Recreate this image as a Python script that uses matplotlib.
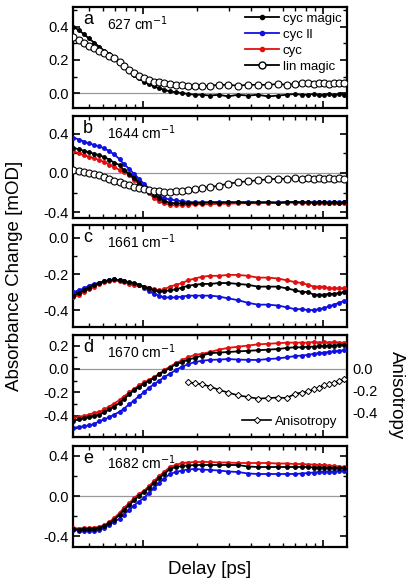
import numpy as np
import matplotlib
matplotlib.use("Agg")
import matplotlib.pyplot as plt
from matplotlib.ticker import MultipleLocator, LogLocator, NullFormatter

plt.rcParams['font.family'] = ['Liberation Sans', 'DejaVu Sans']

# Delay grid (ps)
delay = [0.41, 0.44, 0.47, 0.50, 0.535, 0.57, 0.61, 0.65, 0.69, 0.74, 0.78, 0.84,
         0.89, 0.95, 1.01, 1.08, 1.15, 1.23, 1.31, 1.41, 1.52, 1.65, 1.78, 1.94,
         2.13, 2.36, 2.64, 2.97, 3.37, 3.83, 4.35, 4.95, 5.62, 6.31, 6.99, 7.64,
         8.25, 8.91, 9.50, 10.1, 10.8, 11.5, 12.3, 13.1]

# panel a, 627 cm-1
a_cyc_magic = [0.40, 0.38, 0.355, 0.33, 0.305, 0.28, 0.255, 0.235, 0.21, 0.185, 0.16, 0.135,
               0.11, 0.09, 0.07, 0.055, 0.04, 0.03, 0.02, 0.01, 0.005, 0.0, -0.005, -0.01,
               -0.01, -0.015, -0.01, -0.02, -0.01, -0.015, -0.01, -0.02, -0.015, -0.01, -0.005, -0.01,
               -0.01, -0.005, -0.01, -0.01, -0.005, -0.01, -0.005, -0.01]
a_lin_magic = [0.34, 0.32, 0.30, 0.285, 0.27, 0.255, 0.24, 0.225, 0.21, 0.19, 0.165, 0.14,
               0.12, 0.105, 0.09, 0.08, 0.07, 0.065, 0.06, 0.055, 0.05, 0.05, 0.045, 0.04,
               0.04, 0.045, 0.05, 0.05, 0.045, 0.05, 0.05, 0.05, 0.055, 0.05, 0.055, 0.06,
               0.06, 0.055, 0.06, 0.06, 0.055, 0.06, 0.06, 0.06]

# panel b, 1644 cm-1
b_cyc_par = [0.36, 0.34, 0.32, 0.30, 0.285, 0.27, 0.25, 0.22, 0.19, 0.14, 0.09, 0.04,
             -0.01, -0.06, -0.11, -0.16, -0.20, -0.235, -0.26, -0.27, -0.28, -0.29, -0.295, -0.30,
             -0.30, -0.30, -0.295, -0.30, -0.30, -0.295, -0.30, -0.30, -0.30, -0.295, -0.30, -0.30,
             -0.30, -0.295, -0.30, -0.30, -0.30, -0.295, -0.30, -0.30]
b_cyc = [0.22, 0.20, 0.18, 0.165, 0.15, 0.13, 0.11, 0.085, 0.06, 0.03, 0.01, -0.02,
         -0.07, -0.115, -0.16, -0.21, -0.255, -0.29, -0.31, -0.325, -0.33, -0.33, -0.325, -0.32,
         -0.32, -0.32, -0.315, -0.315, -0.31, -0.31, -0.31, -0.305, -0.31, -0.305, -0.305, -0.31,
         -0.305, -0.305, -0.31, -0.305, -0.305, -0.31, -0.305, -0.305]
b_cyc_magic = [0.255, 0.24, 0.225, 0.21, 0.195, 0.18, 0.16, 0.135, 0.105, 0.08, 0.03, -0.01,
               -0.05, -0.10, -0.15, -0.19, -0.225, -0.26, -0.285, -0.305, -0.31, -0.31, -0.31, -0.305,
               -0.305, -0.30, -0.305, -0.30, -0.30, -0.305, -0.30, -0.30, -0.305, -0.30, -0.295, -0.30,
               -0.30, -0.305, -0.30, -0.30, -0.305, -0.30, -0.305, -0.30]
b_lin_magic = [0.03, 0.02, 0.01, 0.0, -0.01, -0.02, -0.04, -0.06, -0.08, -0.09, -0.11, -0.125,
               -0.14, -0.15, -0.16, -0.17, -0.18, -0.185, -0.19, -0.19, -0.185, -0.18, -0.17, -0.16,
               -0.15, -0.145, -0.13, -0.11, -0.095, -0.085, -0.075, -0.065, -0.06, -0.06, -0.055, -0.06,
               -0.055, -0.06, -0.055, -0.06, -0.055, -0.06, -0.055, -0.06]

# panel c, 1661 cm-1
c_cyc_par = [-0.30, -0.29, -0.28, -0.265, -0.255, -0.25, -0.24, -0.235, -0.23, -0.235, -0.24, -0.25,
             -0.255, -0.26, -0.275, -0.295, -0.31, -0.32, -0.33, -0.33, -0.33, -0.325, -0.32, -0.32,
             -0.32, -0.32, -0.325, -0.335, -0.345, -0.36, -0.37, -0.37, -0.375, -0.385, -0.395, -0.395,
             -0.40, -0.40, -0.395, -0.39, -0.38, -0.37, -0.36, -0.35]
c_cyc = [-0.33, -0.315, -0.30, -0.285, -0.27, -0.255, -0.245, -0.24, -0.235, -0.24, -0.245, -0.255,
         -0.26, -0.26, -0.27, -0.275, -0.285, -0.29, -0.285, -0.27, -0.26, -0.25, -0.235, -0.225,
         -0.215, -0.21, -0.21, -0.205, -0.205, -0.21, -0.22, -0.22, -0.225, -0.235, -0.245, -0.25,
         -0.26, -0.27, -0.27, -0.27, -0.28, -0.28, -0.28, -0.28]
c_cyc_magic = [-0.32, -0.305, -0.29, -0.275, -0.26, -0.25, -0.24, -0.235, -0.23, -0.235, -0.24, -0.245,
               -0.25, -0.26, -0.27, -0.28, -0.29, -0.295, -0.295, -0.29, -0.285, -0.275, -0.265, -0.26,
               -0.255, -0.255, -0.25, -0.25, -0.255, -0.26, -0.27, -0.27, -0.27, -0.28, -0.29, -0.30,
               -0.30, -0.315, -0.315, -0.315, -0.31, -0.31, -0.305, -0.30]

# panel d, 1670 cm-1
d_cyc_par = [-0.50, -0.495, -0.49, -0.48, -0.47, -0.445, -0.43, -0.41, -0.39, -0.365, -0.34, -0.30,
             -0.27, -0.23, -0.20, -0.16, -0.13, -0.10, -0.07, -0.04, -0.01, 0.02, 0.04, 0.06,
             0.07, 0.078, 0.08, 0.085, 0.08, 0.078, 0.077, 0.085, 0.09, 0.10, 0.11, 0.115,
             0.12, 0.13, 0.135, 0.14, 0.145, 0.15, 0.155, 0.16]
d_cyc = [-0.42, -0.41, -0.40, -0.39, -0.375, -0.365, -0.345, -0.32, -0.295, -0.265, -0.235, -0.20,
         -0.17, -0.14, -0.115, -0.095, -0.07, -0.04, -0.01, 0.02, 0.05, 0.075, 0.10, 0.12,
         0.13, 0.145, 0.165, 0.18, 0.19, 0.20, 0.21, 0.215, 0.22, 0.225, 0.225, 0.225,
         0.225, 0.23, 0.225, 0.23, 0.225, 0.23, 0.225, 0.225]
d_cyc_magic = [-0.44, -0.43, -0.42, -0.41, -0.40, -0.39, -0.37, -0.345, -0.32, -0.29, -0.255, -0.215,
               -0.18, -0.155, -0.125, -0.10, -0.075, -0.045, -0.02, 0.01, 0.04, 0.06, 0.08, 0.095,
               0.115, 0.135, 0.14, 0.145, 0.15, 0.155, 0.16, 0.165, 0.17, 0.18, 0.185, 0.185,
               0.19, 0.19, 0.195, 0.195, 0.20, 0.20, 0.205, 0.205]
aniso_delay = delay[22:]
d_anisotropy = [-0.12, -0.13, -0.14, -0.16, -0.19, -0.215, -0.24, -0.255, -0.27, -0.265, -0.26,
                -0.265, -0.225, -0.215, -0.205, -0.185, -0.17, -0.15, -0.14, -0.125, -0.11, -0.09]

# panel e, 1682 cm-1
e_cyc_par = [-0.34, -0.345, -0.35, -0.35, -0.345, -0.34, -0.32, -0.29, -0.26, -0.225, -0.185, -0.14,
             -0.095, -0.055, -0.02, 0.03, 0.08, 0.13, 0.175, 0.22, 0.24, 0.255, 0.265, 0.27,
             0.265, 0.26, 0.255, 0.245, 0.24, 0.225, 0.22, 0.22, 0.22, 0.22, 0.22, 0.225,
             0.23, 0.235, 0.24, 0.245, 0.245, 0.245, 0.25, 0.25]
e_cyc = [-0.32, -0.325, -0.32, -0.32, -0.315, -0.31, -0.29, -0.26, -0.22, -0.17, -0.12, -0.07,
         -0.02, 0.02, 0.05, 0.10, 0.15, 0.20, 0.24, 0.29, 0.31, 0.33, 0.335, 0.34,
         0.34, 0.34, 0.335, 0.335, 0.33, 0.33, 0.33, 0.33, 0.325, 0.325, 0.32, 0.32,
         0.315, 0.315, 0.31, 0.31, 0.305, 0.30, 0.295, 0.29]
e_cyc_magic = [-0.33, -0.335, -0.33, -0.33, -0.325, -0.32, -0.30, -0.27, -0.235, -0.19, -0.14, -0.09,
               -0.04, 0.0, 0.04, 0.08, 0.13, 0.18, 0.22, 0.27, 0.29, 0.30, 0.305, 0.31,
               0.31, 0.31, 0.31, 0.31, 0.31, 0.295, 0.29, 0.29, 0.29, 0.29, 0.29, 0.29,
               0.29, 0.285, 0.285, 0.285, 0.28, 0.28, 0.28, 0.28]

letters = ['a', 'b', 'c', 'd', 'e']
wavenumbers = ['627', '1644', '1661', '1670', '1682']
ylims = [(-0.09, 0.52), (-0.46, 0.58), (-0.494, 0.072), (-0.58, 0.29), (-0.51, 0.50)]
ymajor = [0.2, 0.4, 0.2, 0.2, 0.4]
yminor = [0.1, 0.2, 0.1, 0.1, 0.2]

fig = plt.figure(figsize=(4.12, 5.87), dpi=100)
tops = [7, 116, 225, 335, 446]
bottoms = [108, 218, 327, 437, 547]
left, right = 73 / 412, 347 / 412
axes = []
for t, b in zip(tops, bottoms):
    axes.append(fig.add_axes([left, 1 - b / 587, right - left, (b - t) / 587]))

panels = [
    {'cyc magic': a_cyc_magic, 'lin magic': a_lin_magic},
    {'cyc ll': b_cyc_par, 'cyc': b_cyc, 'cyc magic': b_cyc_magic, 'lin magic': b_lin_magic},
    {'cyc ll': c_cyc_par, 'cyc': c_cyc, 'cyc magic': c_cyc_magic},
    {'cyc ll': d_cyc_par, 'cyc': d_cyc, 'cyc magic': d_cyc_magic},
    {'cyc ll': e_cyc_par, 'cyc': e_cyc, 'cyc magic': e_cyc_magic},
]

colors = {'cyc ll': '#1010e0', 'cyc': '#e01010', 'cyc magic': 'black'}
fmt = plt.FuncFormatter(lambda v, p: f'{v:.1f}'.replace('-0.0', '0.0'))

for i, ax in enumerate(axes):
    if i != 2:
        ax.axhline(0, color='#999999', lw=0.9, zorder=1)
    for name in ['cyc ll', 'cyc', 'cyc magic']:
        if name in panels[i]:
            ax.plot(delay, panels[i][name], '-o', color=colors[name], lw=1.3, ms=2.5,
                    zorder=3, label=name)
    if 'lin magic' in panels[i]:
        ax.plot(delay, panels[i]['lin magic'], '-o', color='black', mfc='white', mec='black',
                lw=1.2, ms=5, mew=0.8, zorder=4, label='lin magic')
    ax.set_xscale('log')
    ax.set_xlim(0.408, 13.6)
    ax.set_ylim(*ylims[i])
    ax.xaxis.set_major_locator(LogLocator(base=10, numticks=10))
    ax.xaxis.set_minor_locator(LogLocator(base=10, subs=np.arange(2, 10), numticks=10))
    ax.xaxis.set_major_formatter(NullFormatter())
    ax.xaxis.set_minor_formatter(NullFormatter())
    ax.yaxis.set_major_locator(MultipleLocator(ymajor[i]))
    ax.yaxis.set_minor_locator(MultipleLocator(yminor[i]))
    ax.yaxis.set_major_formatter(fmt)
    ax.tick_params(which='both', direction='in', top=True, right=True, labelsize=10.5, pad=3)
    ax.tick_params(which='major', length=5, width=1.2)
    ax.tick_params(which='minor', length=3, width=1.0)
    for s in ax.spines.values():
        s.set_linewidth(1.6)
    ax.text(0.036, 0.96, letters[i], transform=ax.transAxes, fontsize=13, va='top', ha='left')
    ax.text(0.125, 0.93, wavenumbers[i] + ' cm$^{-1}$', transform=ax.transAxes, fontsize=10,
            va='top', ha='left')

# legend in panel a
h = [plt.Line2D([], [], color='black', marker='o', ms=3, lw=1.3),
     plt.Line2D([], [], color='#1010e0', marker='o', ms=3, lw=1.3),
     plt.Line2D([], [], color='#e01010', marker='o', ms=3, lw=1.3),
     plt.Line2D([], [], color='black', marker='o', mfc='white', ms=5, lw=1.3)]
axes[0].legend(h, ['cyc magic', 'cyc ll', 'cyc', 'lin magic'], loc='upper right', frameon=False,
               fontsize=9.5, handlelength=2.6, handletextpad=0.3, labelspacing=0.3,
               borderaxespad=0.3, borderpad=0.1)

# anisotropy on right axis of panel d
ax2 = axes[3].twinx()
ax2.plot(aniso_delay, d_anisotropy, '-D', color='black', mfc='white', mec='black', lw=1.2,
         ms=3.2, mew=0.7, label='Anisotropy')
ax2.set_ylim(-0.62, 0.31)
ax2.set_yticks([-0.4, -0.2, 0.0])
ax2.yaxis.set_major_formatter(fmt)
ax2.tick_params(axis='y', direction='in', labelsize=10.5, length=0, pad=4)
ax2.legend(loc='lower right', frameon=False, fontsize=9.5, handlelength=2.2, handletextpad=0.3,
           borderaxespad=0.3)
fig.text(0.962, 1 - 395 / 587, 'Anisotropy', rotation=270, fontsize=13.5, ha='center', va='center')

fig.text(0.035, 0.53, 'Absorbance Change [mOD]', rotation=90, fontsize=13.5, ha='center', va='center')
fig.text((left + right) / 2, 1 - 570 / 587, 'Delay [ps]', fontsize=13.5, ha='center', va='center')

fig.savefig('out.png', dpi=100)
